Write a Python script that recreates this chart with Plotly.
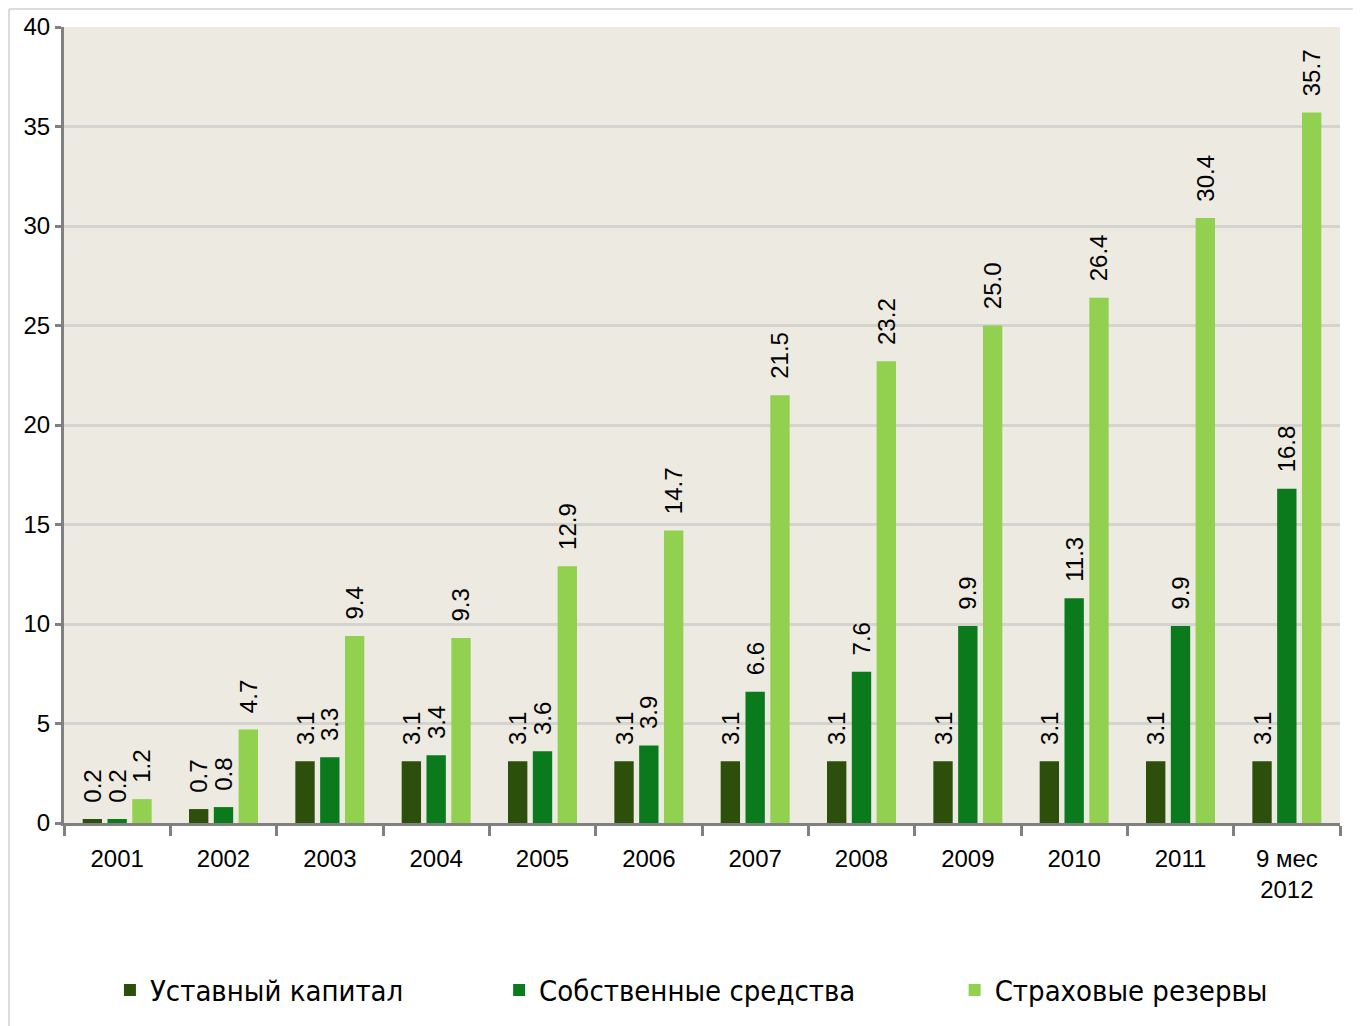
import plotly.graph_objects as go

categories = ["2001", "2002", "2003", "2004", "2005", "2006", "2007", "2008", "2009", "2010", "2011", "9 мес<br>2012"]
ustavny = [0.2, 0.7, 3.1, 3.1, 3.1, 3.1, 3.1, 3.1, 3.1, 3.1, 3.1, 3.1]
sobstv = [0.2, 0.8, 3.3, 3.4, 3.6, 3.9, 6.6, 7.6, 9.9, 11.3, 9.9, 16.8]
strakh = [1.2, 4.7, 9.4, 9.3, 12.9, 14.7, 21.5, 23.2, 25.0, 26.4, 30.4, 35.7]
names = ["Уставный капитал", "Собственные средства", "Страховые резервы"]
colors = ["#2D4F0C", "#0A7A1C", "#92D050"]

legend_ids = ["legend", "legend2", "legend3"]
legend_x = [0.036, 0.341, 0.698]
pad = "\u00a0\u00a0"

fig = go.Figure()
for name, vals, col, lid in zip(names, [ustavny, sobstv, strakh], colors, legend_ids):
    fig.add_trace(go.Bar(
        x=categories, y=vals, name=name, marker_color=col, marker_line_width=0,
        text=[pad + f"{v:.1f}" for v in vals], textposition="outside", textangle=-90,
        constraintext="none",
        textfont=dict(family="Liberation Sans, Arial", size=24, color="black"),
        cliponaxis=False, legend=lid,
    ))

legfont = dict(family="DejaVu Sans Condensed, Liberation Sans Narrow, Liberation Sans, Arial", size=29, color="black")
leg = {}
for lid, lx in zip(legend_ids, legend_x):
    leg[lid] = dict(x=lx, xanchor="left", y=-0.21, yanchor="middle", font=legfont,
                    itemwidth=30, bgcolor="rgba(0,0,0,0)")

fig.update_layout(
    width=1367, height=1026,
    paper_bgcolor="white", plot_bgcolor="#EDEAE1",
    barmode="group", bargap=0.3, bargroupgap=0.22,
    margin=dict(l=56, r=35, t=19, b=211, autoexpand=False),
    font=dict(family="Liberation Sans, Arial", color="black"),
    showlegend=True,
    **leg,
)
fig.update_yaxes(range=[0, 40], dtick=5, showgrid=True, gridcolor="#D5D3D0", gridwidth=3,
                 showline=True, linecolor="#808080", linewidth=3,
                 ticks="outside", ticklen=6, tickwidth=3, tickcolor="#808080",
                 tickfont=dict(size=24), zeroline=False)
fig.update_xaxes(showline=True, linecolor="#808080", linewidth=3,
                 ticks="outside", tickson="boundaries", ticklen=10, tickwidth=3, tickcolor="#808080",
                 tickfont=dict(size=24), ticklabelstandoff=12)

# outer frame lines
fig.add_shape(type="line", xref="paper", yref="paper", x0=-0.0431, x1=1.01, y0=1.0226, y1=1.0226,
              line=dict(color="#D0D0D0", width=1.5))
fig.add_shape(type="line", xref="paper", yref="paper", x0=-0.0431, x1=-0.0431, y0=1.0226, y1=-0.26,
              line=dict(color="#D0D0D0", width=1.5))

fig.write_html("out.html")
